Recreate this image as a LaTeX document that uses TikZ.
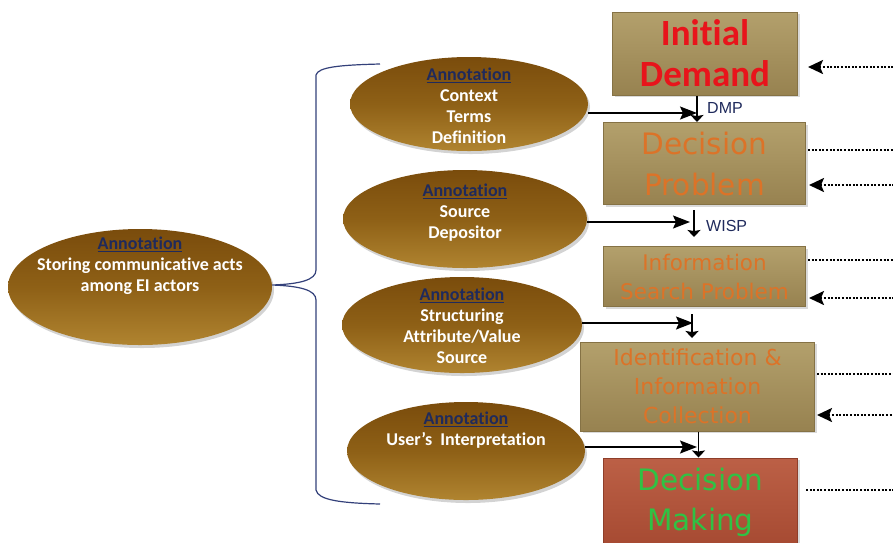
\documentclass[tikz,border=0pt]{standalone}
\usepackage{fontspec}
\setmainfont{Carlito}[Ligatures=NoCommon]
\newfontfamily\boxfont{DejaVu Sans}
\newfontfamily\lblfont{Liberation Sans}
\usetikzlibrary{arrows.meta,shadows,calc,shapes.geometric}
\definecolor{navy}{HTML}{1F2A5C}
\definecolor{bracecol}{HTML}{33407A}
\definecolor{elltop}{HTML}{7A4C0C}
\definecolor{ellmid}{HTML}{8E6016}
\definecolor{ellbot}{HTML}{B08430}
\definecolor{boxtop}{HTML}{B3A06C}
\definecolor{boxbot}{HTML}{978250}
\definecolor{boxline}{HTML}{857245}
\definecolor{redtop}{HTML}{BC6046}
\definecolor{redbot}{HTML}{A64A32}
\definecolor{redline}{HTML}{8E3E2A}
\definecolor{initred}{HTML}{E8141B}
\definecolor{orangetxt}{HTML}{DC7328}
\definecolor{greentxt}{HTML}{2FC244}
\tikzset{
  annot/.style={ellipse, inner sep=0pt, top color=elltop, bottom color=ellbot, middle color=ellmid,
    drop shadow={opacity=0.35, shadow xshift=2pt, shadow yshift=-3pt}},
  anntext/.style={text=white, font=\bfseries\fontsize{18}{21}\selectfont, align=center, inner sep=0pt},
  stagebox/.style={rectangle, draw=boxline, line width=1pt, top color=boxtop, bottom color=boxbot,
    inner sep=0pt, drop shadow={opacity=0.3, shadow xshift=2pt, shadow yshift=-2pt}},
  redbox/.style={stagebox, draw=redline, top color=redtop, bottom color=redbot},
  harrow/.style={draw=black, line width=1.6pt, -{Stealth[length=17pt,width=13pt,inset=3pt]}},
  varrow/.style={draw=black, line width=1.6pt, -{Stealth[length=7pt,width=13pt,inset=1pt]}},
  dotline/.style={draw=black, line width=2.2pt, dash pattern=on 2pt off 1.6pt},
  dotarrow/.style={dotline, {Stealth[length=15pt,width=14pt,inset=3pt]}-},
  flowlbl/.style={text=navy, font=\lblfont\fontsize{16}{16}\selectfont, anchor=west, inner sep=0pt}
}
\newcommand{\annhead}{\textcolor{navy}{\underline{Annotation}}}
\begin{document}
\begin{tikzpicture}[x=1pt,y=-1pt]
\useasboundingbox (0,0) rectangle (893,542);

% brace
\draw[bracecol, line width=1.2pt] (380,64) .. controls (340,65) and (318,67) .. (316,75)
  -- (316,270) .. controls (316,280) and (300,284) .. (272,285)
  .. controls (300,286) and (316,290) .. (316,300)
  -- (316,490) .. controls (318,500) and (340,503) .. (380,504);

% ellipses
\node[annot, minimum width=264pt, minimum height=116pt] (e0) at (140,287) {};
\node[anntext] (e0t) at (140,266) {\annhead\\Storing communicative acts\\among EI actors};
\node[annot, minimum width=238pt, minimum height=94pt] (e1) at (469,104) {};
\node[anntext] (e1t) at (469,106) {\annhead\\Context\\Terms\\Definition};
\node[annot, minimum width=244pt, minimum height=98pt] (e2) at (465,219) {};
\node[anntext] (e2t) at (465,213) {\annhead\\Source\\Depositor};
\node[annot, minimum width=240pt, minimum height=96pt] (e3) at (462,325) {};
\node[anntext] (e3t) at (462,326) {\annhead\\Structuring\\Attribute/Value\\Source};
\node[annot, minimum width=238pt, minimum height=98pt] (e4) at (466,451) {};
\node[anntext] (e4t) at (466,430) {\annhead\\User’s~~Interpretation};

% stage boxes
\node[stagebox, minimum width=185pt, minimum height=83pt] (b1) at (705,53.5)
  {\parbox{185pt}{\centering\color{initred}\bfseries\fontsize{37}{41}\selectfont Initial\\Demand}};
\node[stagebox, minimum width=202pt, minimum height=82pt] (b2) at (704.5,163.5)
  {\parbox{202pt}{\centering\color{orangetxt}\boxfont\fontsize{29.5}{41}\selectfont Decision\\Problem}};
\node[stagebox, minimum width=202pt, minimum height=60pt] (b3) at (704.5,276.5)
  {\parbox{202pt}{\centering\color{orangetxt}\boxfont\fontsize{21.5}{29}\selectfont Information\\Search Problem}};
\node[stagebox, minimum width=234pt, minimum height=89pt] (b4) at (697.5,386.5)
  {\parbox{234pt}{\centering\color{orangetxt}\boxfont\fontsize{22}{29}\selectfont Identification \&\\Information\\Collection}};
\node[redbox, minimum width=194pt, minimum height=88pt] (b5) at (700.5,502)
  {\parbox{194pt}{\centering\color{greentxt}\boxfont\fontsize{29.5}{40}\selectfont Decision\\Making}};

% junction coordinates
\coordinate (j1) at (697,113);
\coordinate (j2) at (690,222);
\coordinate (j3) at (693,323);
\coordinate (j4) at (697,447);
\coordinate (w1) at (694,210);
\coordinate (w2) at (694,237);
\coordinate (w3) at (692,314);
\coordinate (w4) at (692,338);

% flow arrows
\draw[harrow] (e1.east |- j1) -- (j1);
\draw[varrow] (b1.south -| j1) -- (b2.north -| j1);
\node[flowlbl] (dmp) at (707,108) {DMP};
\draw[harrow] (e2.east |- j2) -- (j2);
\draw[varrow] (w1) -- (w2);
\node[flowlbl] (wisp) at (706,226) {WISP};
\draw[harrow] (e3.east |- j3) -- (j3);
\draw[varrow] (w3) -- (w4);
\draw[harrow] (e4.east |- j4) -- (j4);
\draw[varrow] ($(b4.south)+(1,0)$) -- ($(b5.north)+(-2,0)$);

% right dotted connectors
\coordinate (r1) at (893,67);
\coordinate (r2a) at (893,150);
\coordinate (r2b) at (893,185);
\coordinate (r3a) at (893,260);
\coordinate (r3b) at (893,298);
\coordinate (r4a) at (893,374);
\coordinate (r4b) at (893,415);
\coordinate (r5) at (893,490);
\draw[dotarrow] ($(b1.east |- r1)+(10,0)$) -- (r1);
\draw[dotline] ($(b2.east |- r2a)+(2,0)$) -- (r2a);
\draw[dotarrow] ($(b2.east |- r2b)+(3,0)$) -- (r2b);
\draw[dotline] ($(b3.east |- r3a)+(2,0)$) -- (r3a);
\draw[dotarrow] ($(b3.east |- r3b)+(3,0)$) -- (r3b);
\draw[dotline] ($(b4.east |- r4a)+(2,0)$) -- (r4a);
\draw[dotarrow] ($(b4.east |- r4b)+(2,0)$) -- (r4b);
\draw[dotline] ($(b5.east |- r5)+(8,0)$) -- (r5);
\end{tikzpicture}
\end{document}
